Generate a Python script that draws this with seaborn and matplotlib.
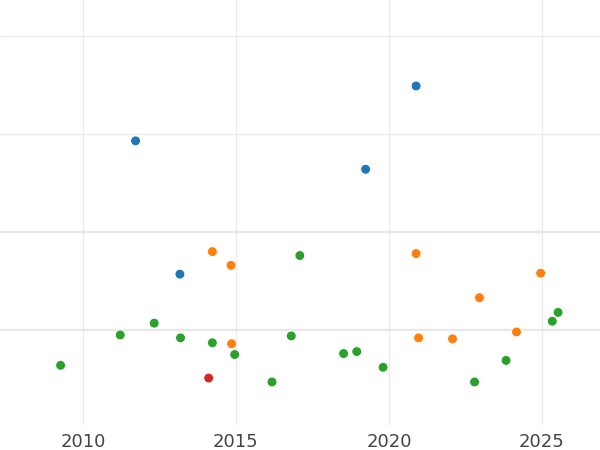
import pandas as pd
import matplotlib.pyplot as plt
import seaborn as sns

# values (y has no labels, grid lines at 1..4)
blue_x = [2011.72, 2020.89, 2019.24, 2013.17]
blue_y = [2.93, 3.49, 2.64, 1.57]

orange_x = [2014.23, 2014.84, 2014.86, 2020.89, 2020.97, 2022.08, 2022.96, 2024.17, 2024.96]
orange_y = [1.80, 1.66, 0.86, 1.78, 0.92, 0.91, 1.33, 0.98, 1.58]

green_x = [2009.27, 2011.22, 2012.33, 2013.19, 2014.23, 2014.96, 2016.18, 2016.81, 2017.09,
           2018.52, 2018.95, 2019.81, 2022.80, 2023.83, 2025.34, 2025.53]
green_y = [0.64, 0.95, 1.07, 0.92, 0.87, 0.75, 0.47, 0.94, 1.76,
           0.76, 0.78, 0.62, 0.47, 0.69, 1.09, 1.18]

red_x = [2014.11]
red_y = [0.51]

groups = ["A", "B", "C", "D"]
colors = ["#1f77b4", "#ff7f0e", "#2ca02c", "#d62728"]

df = pd.concat([
    pd.DataFrame({"year": blue_x, "value": blue_y, "group": "A"}),
    pd.DataFrame({"year": orange_x, "value": orange_y, "group": "B"}),
    pd.DataFrame({"year": green_x, "value": green_y, "group": "C"}),
    pd.DataFrame({"year": red_x, "value": red_y, "group": "D"}),
])

sns.set_style("white")
fig = plt.figure(figsize=(6, 4.5), dpi=100)
ax = fig.add_axes([0, 25 / 450, 1, 425 / 450])

sns.scatterplot(data=df, x="year", y="value", hue="group", hue_order=groups,
                palette=dict(zip(groups, colors)), s=50, edgecolor="white",
                linewidth=0.6, legend=False, ax=ax, zorder=3)

ax.set_xlim(2007.29, 2026.9)
ax.set_ylim(0.031, 4.367)
ax.set_xticks([2010, 2015, 2020, 2025])
ax.set_yticks([1, 2])
ax.set_yticks([3, 4], minor=True)
ax.grid(axis="x", color="#ebebeb", linewidth=1)
ax.grid(axis="y", which="major", color="#e8e8e8", linewidth=1.6)
ax.grid(axis="y", which="minor", color="#ebebeb", linewidth=1)
ax.set_axisbelow(True)
ax.tick_params(axis="x", length=0, labelsize=13, colors="#444444", pad=6)
ax.tick_params(axis="y", which="both", length=0, labelleft=False)
ax.set_xlabel("")
ax.set_ylabel("")
for s in ax.spines.values():
    s.set_visible(False)

fig.savefig("out.png", dpi=100)
